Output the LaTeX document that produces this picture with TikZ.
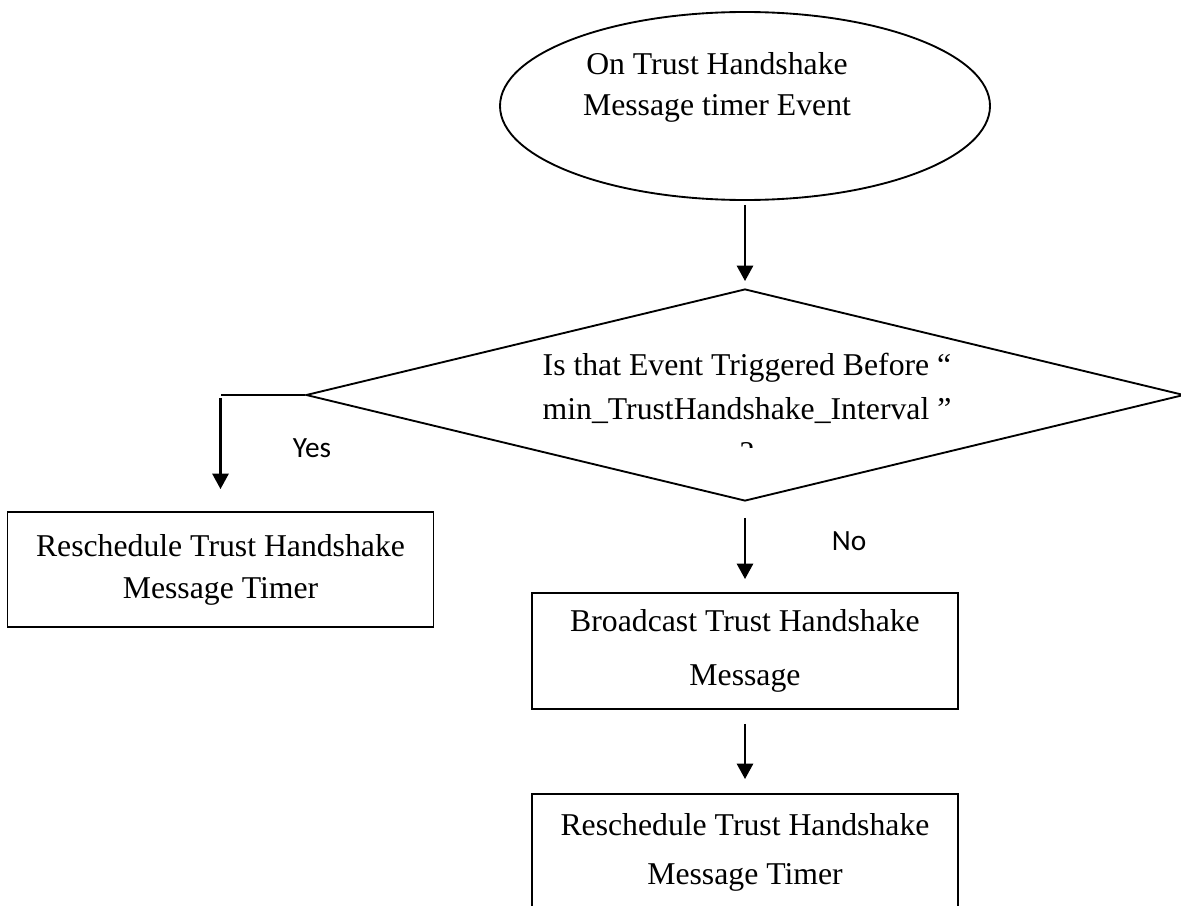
\documentclass[tikz,border=0pt]{standalone}
\usepackage{fontspec}
\setmainfont{Liberation Serif}
\newfontfamily\yesnofont{Carlito}
\usepackage{tikz}
\usetikzlibrary{shapes}
\usetikzlibrary{arrows.meta}

\begin{document}
\begin{tikzpicture}[x=0.75pt,y=0.75pt,yscale=-1,xscale=1,
  shape line/.style={draw, line width=1.4pt},
  flow arrow/.style={line width=1.9pt, -{Triangle[width=12pt,length=11.5pt]}},
  box text/.style={font=\fontsize{23.8}{#1}\selectfont, align=center},
  branch text/.style={font=\yesnofont\fontsize{22}{26}\selectfont, anchor=base, inner sep=0.75pt}]
%set diagram left start at 0, and has height of 906
\useasboundingbox (0,0) rectangle (1181,906);
\clip (0,0) rectangle (1181,906);

%Shape: Ellipse
\node (timerev) [ellipse, shape line, minimum width=367.5pt, minimum height=141pt, inner sep=0pt] at (745,106) {};
% Text Node
\node (timertxt) [box text=30.75pt] at (717,87) {On Trust Handshake\\Message timer Event};

%Shape: Diamond
\node (trigchk) [diamond, shape line, minimum width=658.5pt, minimum height=159pt, inner sep=0pt] at (745,395) {};
% Text Node
\begin{scope}
\clip (500,330) rectangle (1000,447);
\node (trigtxt) [box text=33pt] at (747,409) {Is that Event Triggered Before “\\min\_TrustHandshake\_Interval ”\\?};
\end{scope}

%Shape: Rectangle
\node (resched) [rectangle, shape line, minimum width=319.5pt, minimum height=86.25pt, box text=31.5pt] at (220.5,569.5) {Reschedule Trust Handshake\\Message Timer};
%Shape: Rectangle
\node (bcast) [rectangle, shape line, minimum width=319.5pt, minimum height=87pt, box text=40.5pt] at (745,651) {Broadcast Trust Handshake\\Message};
%Shape: Rectangle
\node (reschedb) [rectangle, shape line, minimum width=319.5pt, minimum height=87pt, box text=36.75pt] at (745,852) {Reschedule Trust Handshake\\Message Timer};

%Straight Lines
\draw [flow arrow, shorten <=3pt, shorten >=5.25pt] (timerev.south) -- (trigchk.north);
%Straight Lines
\coordinate (yesbend) at (220.5,395);
\draw [shape line] (trigchk.west) -- (yesbend);
\draw [flow arrow, shorten <=2.25pt, shorten >=16.5pt] (yesbend) -- (resched.north);
%Straight Lines
\draw [flow arrow, shorten <=12pt, shorten >=9.75pt] (trigchk.south) -- (bcast.north);
%Straight Lines
\draw [flow arrow, shorten <=10.5pt, shorten >=10.5pt] (bcast.south) -- (reschedb.north);

% Text Node
\node (yeslbl) [branch text] at (312,457) {Yes};
% Text Node
\node (nolbl) [branch text] at (849,550) {No};

\end{tikzpicture}
\end{document}
